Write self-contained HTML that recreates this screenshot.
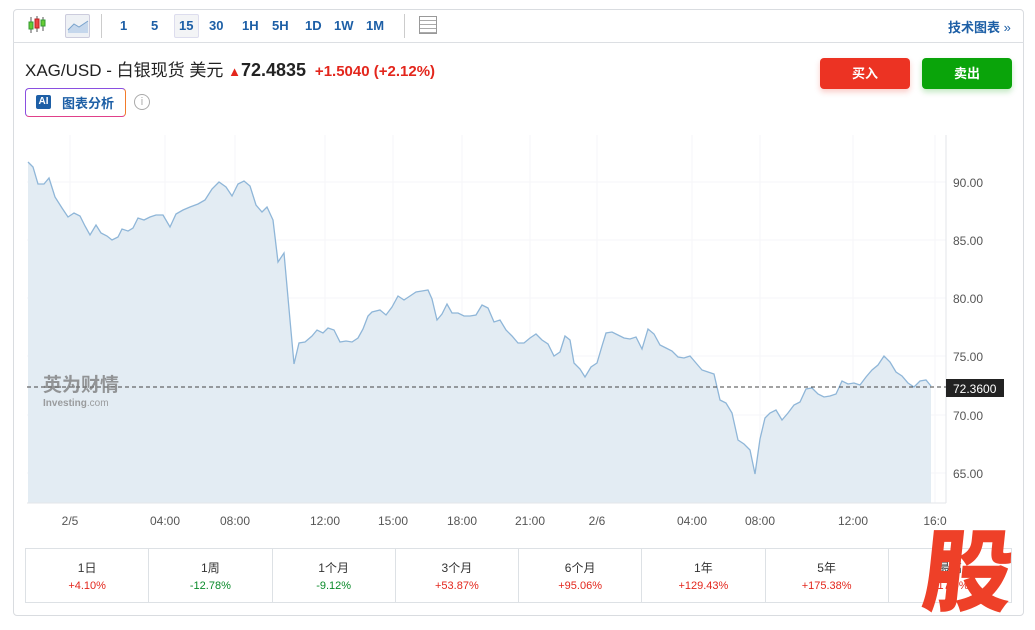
<!DOCTYPE html>
<html><head><meta charset="utf-8"><style>
*{margin:0;padding:0;box-sizing:border-box}
body{width:1035px;height:624px;background:#fff;font-family:"Liberation Sans","Noto Sans CJK SC",sans-serif;position:relative;overflow:hidden}
.card{position:absolute;left:13px;top:9px;width:1011px;height:607px;border:1px solid #d9dce0;border-radius:4px}
.tb{position:absolute;left:13px;top:9px;width:1011px;height:34px;border-bottom:1px solid #dcdfe3}
.t{position:absolute;top:18px;font-size:13px;font-weight:bold;color:#1d5fa6}
.abs{position:absolute}
.tbl{position:absolute;left:25px;top:548px;width:987px;height:55px;border:1px solid #dde1e5;display:flex}
.tbl div{flex:1;border-right:1px solid #dde1e5;text-align:center;padding-top:10px;font-size:12px;color:#333}
.tbl div span{display:block;font-size:11px;margin-top:4px}
.r{color:#e3261c}.g{color:#0a8a2a}
</style></head><body>
<div class="card"></div>
<div class="tb"></div>
<svg class="abs" style="left:26px;top:14px" width="22" height="22"><line x1="5" y1="3" x2="5" y2="19" stroke="#555"/><rect x="3" y="8" width="4" height="7" fill="#6c3" stroke="#393"/><line x1="11" y1="2" x2="11" y2="18" stroke="#555"/><rect x="9" y="5" width="4" height="9" fill="#e44" stroke="#b22"/><line x1="17" y1="3" x2="17" y2="17" stroke="#555"/><rect x="15" y="6" width="4" height="6" fill="#6c3" stroke="#393"/></svg>
<div class="abs" style="left:65px;top:14px;width:25px;height:24px;border:1px solid #ccd;border-radius:2px;background:#eef1f5"></div>
<svg class="abs" style="left:67px;top:18px" width="22" height="16"><path d="M1 12 L7 6 L12 9 L21 3 L21 15 L1 15Z" fill="#c5d7ec"/><path d="M1 12 L7 6 L12 9 L21 3" stroke="#7aa3cc" fill="none"/></svg>
<div class="abs" style="left:101px;top:14px;width:1px;height:24px;background:#ccc"></div>
<div class="abs" style="left:174px;top:14px;width:25px;height:24px;border:1px solid #dde;border-radius:2px;background:#f3f4f6"></div>
<div class="t" style="left:120px">1</div><div class="t" style="left:151px">5</div><div class="t" style="left:179px">15</div><div class="t" style="left:209px">30</div><div class="t" style="left:242px">1H</div><div class="t" style="left:272px">5H</div><div class="t" style="left:305px">1D</div><div class="t" style="left:334px">1W</div><div class="t" style="left:366px">1M</div>
<div class="abs" style="left:404px;top:14px;width:1px;height:24px;background:#ccc"></div>
<div class="abs" style="left:419px;top:16px;width:18px;height:18px;border:1px solid #999;background:repeating-linear-gradient(#fff 0 3px,#aaa 3px 4px)"></div>
<div class="abs" style="left:948px;top:17px;font-size:13px;font-weight:bold;color:#1d5fa6">技术图表 <span style="font-weight:normal">»</span></div>
<div class="abs" style="left:25px;top:56px;font-size:17px;color:#222">XAG/USD - 白银现货 美元 <span style="color:#e3261c;font-size:13px">▲</span><b style="font-size:18px">72.4835</b> <span style="color:#e3261c;font-size:15px;font-weight:bold">&nbsp;+1.5040 (+2.12%)</span></div>
<div class="abs" style="left:25px;top:88px;width:101px;height:29px;border:1.5px solid #8a4fe0;border-right-color:#f27b2a;border-bottom-color:#e0408a;border-radius:4px"></div>
<div class="abs" style="left:36px;top:95px;width:15px;height:14px;background:#1d5fa6;border-radius:2px;color:#fff;font-size:10px;font-weight:bold;text-align:center;line-height:14px">AI</div>
<div class="abs" style="left:62px;top:93px;font-size:13px;font-weight:bold;color:#1d5fa6">图表分析</div>
<div class="abs" style="left:134px;top:94px;width:16px;height:16px;border:1px solid #aaa;border-radius:50%;font-size:11px;color:#aaa;text-align:center;line-height:14px">i</div>
<div class="abs" style="left:820px;top:58px;width:90px;height:31px;background:#ec3323;border-radius:4px;color:#fff;font-size:13px;font-weight:bold;text-align:center;line-height:31px;box-shadow:0 3px 6px rgba(236,51,35,.25)">买入</div>
<div class="abs" style="left:922px;top:58px;width:90px;height:31px;background:#0aa40a;border-radius:4px;color:#fff;font-size:13px;font-weight:bold;text-align:center;line-height:31px;box-shadow:0 3px 6px rgba(10,164,10,.25)">卖出</div>
<svg class="abs" style="left:0;top:0" width="1035" height="624">
<g stroke="#f5f6f8" stroke-width="1">
<line x1="27" y1="182" x2="946" y2="182"/><line x1="27" y1="240" x2="946" y2="240"/><line x1="27" y1="298" x2="946" y2="298"/><line x1="27" y1="356" x2="946" y2="356"/><line x1="27" y1="415" x2="946" y2="415"/><line x1="27" y1="473" x2="946" y2="473"/>
<line x1="70" y1="135" x2="70" y2="503"/><line x1="165" y1="135" x2="165" y2="503"/><line x1="235" y1="135" x2="235" y2="503"/><line x1="325" y1="135" x2="325" y2="503"/><line x1="393" y1="135" x2="393" y2="503"/><line x1="462" y1="135" x2="462" y2="503"/><line x1="530" y1="135" x2="530" y2="503"/><line x1="597" y1="135" x2="597" y2="503"/><line x1="692" y1="135" x2="692" y2="503"/><line x1="760" y1="135" x2="760" y2="503"/><line x1="853" y1="135" x2="853" y2="503"/><line x1="935" y1="135" x2="935" y2="503"/>
</g>
<polygon fill="#e3ecf3" points="28,503 28,162 33,167 38,184 44,184 49,178 55,197 62,208 68,217 74,213 80,216 85,226 90,235 96,225 101,233 107,236 112,240 118,237 122,229 128,231 133,228 138,218 144,220 150,217 156,215 163,215 170,227 176,214 183,210 190,207 198,204 205,200 212,189 219,182 226,187 232,196 238,184 244,181 250,186 256,205 262,212 267,207 273,220 278,262 284,253 290,320 294,364 299,343 305,342 312,336 317,330 323,333 328,328 334,330 340,342 346,341 352,342 358,338 363,329 368,316 372,312 380,310 386,315 392,307 398,296 404,300 410,296 416,292 422,291 428,290 432,299 437,320 442,314 447,304 452,313 458,313 464,316 470,316 476,315 482,305 488,308 494,322 500,320 506,330 512,336 518,343 524,343 530,338 536,334 542,340 548,344 554,356 560,352 565,336 570,340 574,363 580,369 585,377 591,367 597,363 602,346 606,333 612,332 618,335 624,338 630,339 636,337 642,349 648,329 654,334 660,345 666,348 672,351 678,357 684,358 690,356 696,363 702,370 708,372 714,374 720,400 726,403 732,413 738,440 744,444 750,450 755,474 760,439 765,418 770,413 776,410 782,420 788,413 794,405 800,402 806,389 812,388 818,394 824,397 830,396 836,394 842,381 848,384 854,383 860,385 866,377 872,370 878,365 884,356 890,362 896,372 902,376 908,383 914,387 920,381 926,380 931,386 931,503"/>
<polyline fill="none" stroke="#8fb6d8" stroke-width="1.3" points="28,162 33,167 38,184 44,184 49,178 55,197 62,208 68,217 74,213 80,216 85,226 90,235 96,225 101,233 107,236 112,240 118,237 122,229 128,231 133,228 138,218 144,220 150,217 156,215 163,215 170,227 176,214 183,210 190,207 198,204 205,200 212,189 219,182 226,187 232,196 238,184 244,181 250,186 256,205 262,212 267,207 273,220 278,262 284,253 290,320 294,364 299,343 305,342 312,336 317,330 323,333 328,328 334,330 340,342 346,341 352,342 358,338 363,329 368,316 372,312 380,310 386,315 392,307 398,296 404,300 410,296 416,292 422,291 428,290 432,299 437,320 442,314 447,304 452,313 458,313 464,316 470,316 476,315 482,305 488,308 494,322 500,320 506,330 512,336 518,343 524,343 530,338 536,334 542,340 548,344 554,356 560,352 565,336 570,340 574,363 580,369 585,377 591,367 597,363 602,346 606,333 612,332 618,335 624,338 630,339 636,337 642,349 648,329 654,334 660,345 666,348 672,351 678,357 684,358 690,356 696,363 702,370 708,372 714,374 720,400 726,403 732,413 738,440 744,444 750,450 755,474 760,439 765,418 770,413 776,410 782,420 788,413 794,405 800,402 806,389 812,388 818,394 824,397 830,396 836,394 842,381 848,384 854,383 860,385 866,377 872,370 878,365 884,356 890,362 896,372 902,376 908,383 914,387 920,381 926,380 931,386"/>
<line x1="946" y1="135" x2="946" y2="503" stroke="#e3e6ea"/>
<line x1="27" y1="503" x2="946" y2="503" stroke="#e3e6ea"/>
<line x1="27" y1="387" x2="946" y2="387" stroke="#444" stroke-dasharray="4,3"/>
<rect x="946" y="379" width="58" height="18" fill="#222"/>
<text x="953" y="393" font-size="12" fill="#fff" font-family="Liberation Sans">72.3600</text>
<g font-size="12" fill="#555" font-family="Liberation Sans">
<text x="953" y="187">90.00</text><text x="953" y="245">85.00</text><text x="953" y="303">80.00</text><text x="953" y="361">75.00</text><text x="953" y="420">70.00</text><text x="953" y="478">65.00</text>
</g>
<g font-size="12" fill="#555" font-family="Liberation Sans" text-anchor="middle">
<text x="70" y="525">2/5</text><text x="165" y="525">04:00</text><text x="235" y="525">08:00</text><text x="325" y="525">12:00</text><text x="393" y="525">15:00</text><text x="462" y="525">18:00</text><text x="530" y="525">21:00</text><text x="597" y="525">2/6</text><text x="692" y="525">04:00</text><text x="760" y="525">08:00</text><text x="853" y="525">12:00</text><text x="935" y="525">16:0</text>
</g>
<text x="43" y="391" font-size="19" font-weight="bold" fill="#777" opacity="0.75" font-family="Noto Sans CJK SC,sans-serif">英为财情</text>
<text x="43" y="406" font-size="10" font-weight="bold" fill="#888" opacity="0.8" font-family="Liberation Sans">Investing<tspan font-weight="normal">.com</tspan></text>
</svg>
<div class="tbl">
<div>1日<span class="r">+4.10%</span></div><div>1周<span class="g">-12.78%</span></div><div>1个月<span class="g">-9.12%</span></div><div>3个月<span class="r">+53.87%</span></div><div>6个月<span class="r">+95.06%</span></div><div>1年<span class="r">+129.43%</span></div><div>5年<span class="r">+175.38%</span></div><div style="border-right:none">最高<span class="r">+17.9%</span></div>
</div>
<div class="abs" style="left:924px;top:520px;font-size:90px;font-weight:900;color:#ee4028;line-height:1;font-family:'Noto Sans CJK SC',sans-serif;transform:skewX(-6deg)">股</div>
</body></html>
